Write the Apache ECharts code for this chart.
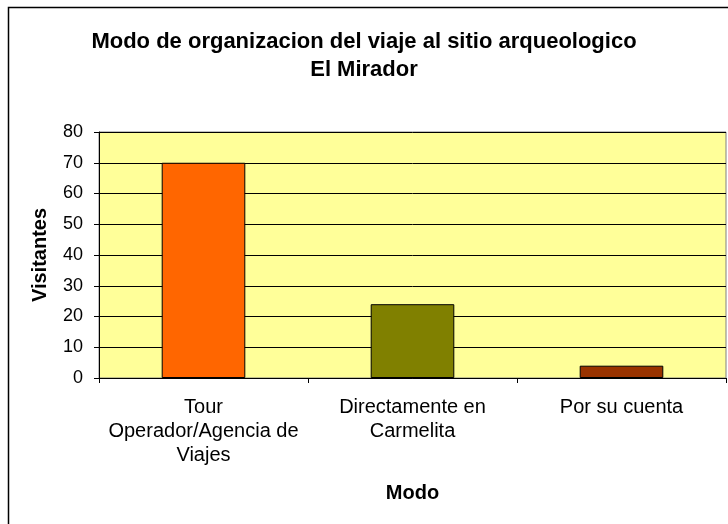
<!DOCTYPE html>
<html>
<head>
<meta charset="utf-8">
<script src="https://cdn.jsdelivr.net/npm/echarts@6/dist/echarts.min.js"></script>
<style>html,body{margin:0;padding:0;background:#fff}#c{width:728px;height:524px}</style>
</head>
<body>
<div id="c"></div>
<script>
const categories = ["Tour\nOperador/Agencia de\nViajes", "Directamente en\nCarmelita", "Por su cuenta"];
const values = [70, 24, 4];
const barColors = ["#FF6600", "#808000", "#993300"];
const yTicks = [0, 10, 20, 30, 40, 50, 60, 70, 80];

const chart = echarts.init(document.getElementById('c'), null, {renderer: 'canvas'});
const font = 'Liberation Sans, Arial, sans-serif';
chart.setOption({
  animation: false,
  backgroundColor: '#ffffff',
  textStyle: {fontFamily: font},
  title: {
    text: 'Modo de organizacion del viaje al sitio arqueologico\nEl Mirador',
    left: 'center',
    top: 23,
    textStyle: {fontFamily: font, fontSize: 22, fontWeight: 'bold', color: '#000', lineHeight: 28, align: 'center'}
  },
  graphic: [{
    type: 'rect', left: 6, top: 5, silent: true,
    shape: {x: 0, y: 0, width: 740, height: 540},
    style: {fill: 'none', stroke: '#000', lineWidth: 1.5}
  }],
  grid: {
    left: 99, right: 2, top: 132, bottom: 146,
    show: true, backgroundColor: '#FFFF99', borderColor: '#808080', borderWidth: 1
  },
  xAxis: {
    type: 'category',
    data: categories,
    name: 'Modo',
    nameLocation: 'middle',
    nameGap: 105,
    nameTextStyle: {fontFamily: font, fontSize: 20, fontWeight: 'bold', color: '#000'},
    axisLine: {lineStyle: {color: '#000', width: 1}},
    axisTick: {show: true, alignWithLabel: false, inside: false, length: 5, lineStyle: {color: '#000'}},
    axisLabel: {fontFamily: font, fontSize: 20, color: '#000', lineHeight: 24, margin: 17, interval: 0}
  },
  yAxis: {
    type: 'value',
    min: yTicks[0],
    max: yTicks[yTicks.length - 1],
    interval: yTicks[1] - yTicks[0],
    name: 'Visitantes',
    nameLocation: 'middle',
    nameGap: 49,
    nameTextStyle: {fontFamily: font, fontSize: 20, fontWeight: 'bold', color: '#000'},
    axisLine: {show: true, lineStyle: {color: '#000', width: 1}},
    axisTick: {show: true, inside: false, length: 5, lineStyle: {color: '#000'}},
    axisLabel: {fontFamily: font, fontSize: 18, color: '#000', margin: 16},
    splitLine: {show: true, lineStyle: {color: '#000', width: 1}}
  },
  series: [{
    type: 'bar',
    data: values.map((v, i) => ({value: v, itemStyle: {color: barColors[i]}})),
    barWidth: '40%',
    itemStyle: {borderColor: '#000', borderWidth: 1}
  }]
});
</script>
</body>
</html>
